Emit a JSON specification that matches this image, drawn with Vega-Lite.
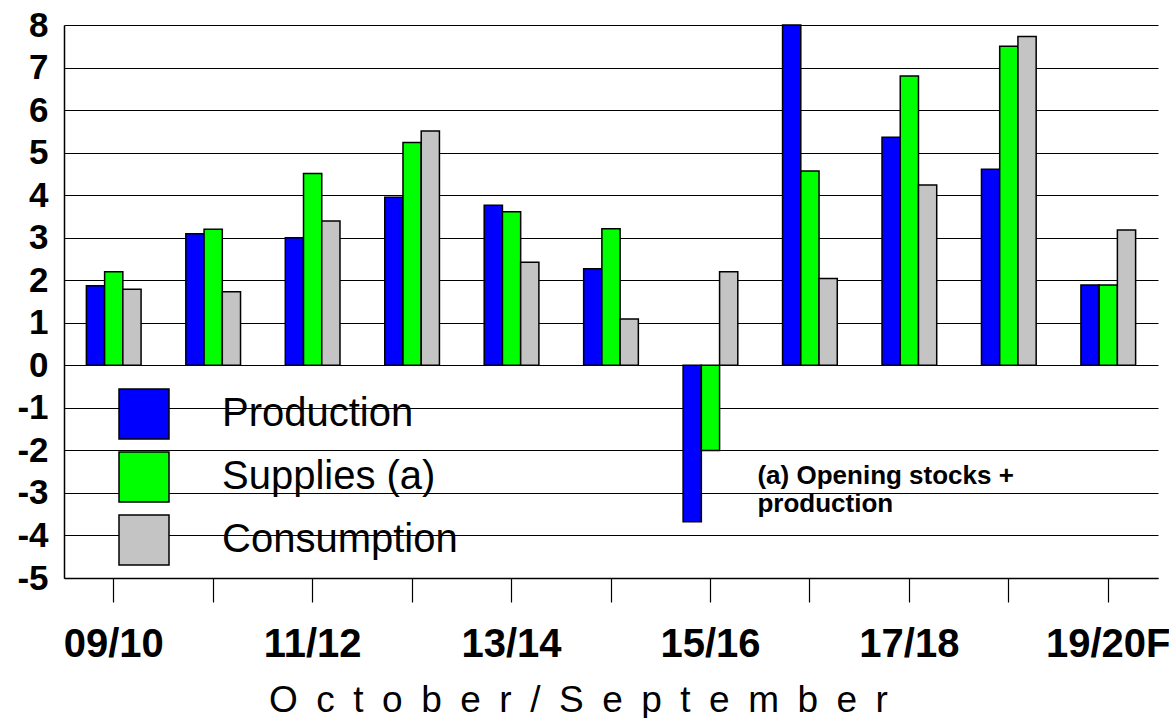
{
  "$schema": "https://vega.github.io/schema/vega-lite/v6.json",
  "width": 1094,
  "height": 553,
  "autosize": {"type": "none"},
  "padding": {"left": 64, "top": 25, "right": 11, "bottom": 140},
  "config": {"font": "Liberation Sans", "view": {"stroke": null}},
  "datasets": {
    "bars": [
      {"season": "09/10", "series": "Production", "value": 1.87},
      {"season": "09/10", "series": "Supplies (a)", "value": 2.2},
      {"season": "09/10", "series": "Consumption", "value": 1.79},
      {"season": "10/11", "series": "Production", "value": 3.09},
      {"season": "10/11", "series": "Supplies (a)", "value": 3.2},
      {"season": "10/11", "series": "Consumption", "value": 1.73},
      {"season": "11/12", "series": "Production", "value": 3.0},
      {"season": "11/12", "series": "Supplies (a)", "value": 4.51},
      {"season": "11/12", "series": "Consumption", "value": 3.39},
      {"season": "12/13", "series": "Production", "value": 3.95},
      {"season": "12/13", "series": "Supplies (a)", "value": 5.24},
      {"season": "12/13", "series": "Consumption", "value": 5.51},
      {"season": "13/14", "series": "Production", "value": 3.76},
      {"season": "13/14", "series": "Supplies (a)", "value": 3.61},
      {"season": "13/14", "series": "Consumption", "value": 2.42},
      {"season": "14/15", "series": "Production", "value": 2.27},
      {"season": "14/15", "series": "Supplies (a)", "value": 3.21},
      {"season": "14/15", "series": "Consumption", "value": 1.09},
      {"season": "15/16", "series": "Production", "value": -3.68},
      {"season": "15/16", "series": "Supplies (a)", "value": -2.0},
      {"season": "15/16", "series": "Consumption", "value": 2.2},
      {"season": "16/17", "series": "Production", "value": 8.0},
      {"season": "16/17", "series": "Supplies (a)", "value": 4.57},
      {"season": "16/17", "series": "Consumption", "value": 2.04},
      {"season": "17/18", "series": "Production", "value": 5.36},
      {"season": "17/18", "series": "Supplies (a)", "value": 6.8},
      {"season": "17/18", "series": "Consumption", "value": 4.24},
      {"season": "18/19", "series": "Production", "value": 4.61},
      {"season": "18/19", "series": "Supplies (a)", "value": 7.5},
      {"season": "18/19", "series": "Consumption", "value": 7.73},
      {"season": "19/20F", "series": "Production", "value": 1.89},
      {"season": "19/20F", "series": "Supplies (a)", "value": 1.89},
      {"season": "19/20F", "series": "Consumption", "value": 3.18}
    ],
    "notes": [
      {"season": "15/16", "value": -2.8, "label": "(a) Opening stocks +\nproduction"}
    ]
  },
  "layer": [
    {
      "data": {"name": "bars"},
      "mark": {"type": "bar", "stroke": "black", "strokeWidth": 1.5},
      "encoding": {
        "x": {
          "field": "season",
          "type": "nominal",
          "sort": ["09/10", "10/11", "11/12", "12/13", "13/14", "14/15", "15/16", "16/17", "17/18", "18/19", "19/20F"],
          "scale": {"paddingInner": 0.45, "paddingOuter": 0.225},
          "axis": {
            "title": "O\u2002c\u2002t\u2002o\u2002b\u2002e\u2002r\u2002/\u2002S\u2002e\u2002p\u2002t\u2002e\u2002m\u2002b\u2002e\u2002r",
            "titleFontSize": 37,
            "titleFontWeight": "normal",
            "titleColor": "black",
            "titlePadding": 18,
            "titleX": 514,
            "labelFontSize": 40,
            "labelFontWeight": "bold",
            "labelColor": "black",
            "labelAngle": 0,
            "labelPadding": 22,
            "labelOverlap": false,
            "labelBound": false,
            "labelExpr": "indexof(['09/10','11/12','13/14','15/16','17/18','19/20F'], datum.value) >= 0 ? datum.value : ''",
            "tickSize": 24,
            "tickColor": "black",
            "tickWidth": 1.2,
            "domainColor": "black",
            "domainWidth": 1.5,
            "grid": false
          }
        },
        "xOffset": {
          "field": "series",
          "type": "nominal",
          "sort": ["Production", "Supplies (a)", "Consumption"],
          "scale": {"paddingInner": 0, "paddingOuter": 0}
        },
        "y": {
          "field": "value",
          "type": "quantitative",
          "scale": {"domain": [-5, 8], "nice": false, "zero": false},
          "axis": {
            "title": null,
            "values": [-5, -4, -3, -2, -1, 0, 1, 2, 3, 4, 5, 6, 7, 8],
            "labelExpr": "'' + datum.value",
            "ticks": false,
            "labelPadding": 16,
            "labelFontSize": 35,
            "labelFontWeight": "bold",
            "labelColor": "black",
            "grid": true,
            "gridColor": "black",
            "gridWidth": 1.2,
            "gridOpacity": 1,
            "domainColor": "black",
            "domainWidth": 1.5
          }
        },
        "color": {
          "field": "series",
          "type": "nominal",
          "sort": ["Production", "Supplies (a)", "Consumption"],
          "scale": {"domain": ["Production", "Supplies (a)", "Consumption"], "range": ["#0000ff", "#00ff00", "#c4c4c4"]},
          "legend": {
            "title": null,
            "orient": "none",
            "legendX": 54,
            "legendY": 363,
            "symbolType": "square",
            "symbolSize": 2500,
            "symbolStrokeColor": "black",
            "symbolStrokeWidth": 1.5,
            "symbolOpacity": 1,
            "labelFontSize": 40,
            "labelColor": "black",
            "labelOffset": 52,
            "labelLimit": 0,
            "rowPadding": 7,
            "padding": 0
          }
        }
      }
    },
    {
      "data": {"name": "notes"},
      "mark": {"type": "text", "align": "left", "baseline": "alphabetic", "fontSize": 26, "fontWeight": "bold", "lineHeight": 28, "dx": 47, "lineBreak": "\n", "color": "black"},
      "encoding": {
        "x": {"field": "season", "type": "nominal", "sort": ["09/10", "10/11", "11/12", "12/13", "13/14", "14/15", "15/16", "16/17", "17/18", "18/19", "19/20F"]},
        "y": {"field": "value", "type": "quantitative"},
        "text": {"field": "label"}
      }
    }
  ]
}
